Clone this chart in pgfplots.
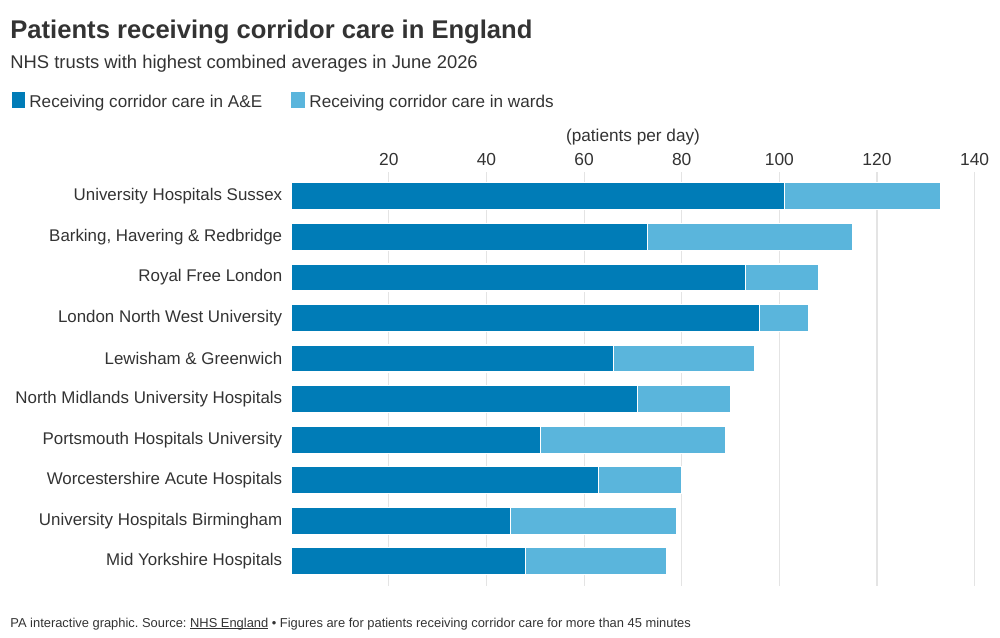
\documentclass[border=0pt]{standalone}
\usepackage{pgfplots}
\pgfplotsset{compat=1.18}
\usepackage{fontspec}
\setmainfont{Liberation Sans}
\definecolor{ae}{HTML}{007CB7}
\definecolor{wd}{HTML}{5AB5DC}
\definecolor{txt}{HTML}{333333}
\definecolor{gridc}{HTML}{E4E4E4}
\newcommand\ulin[1]{{\setbox0\hbox{#1}\rlap{\rule[-0.9pt]{\wd0}{0.35pt}}\box0}}
\frenchspacing
\begin{document}
\begin{tikzpicture}
\useasboundingbox (0,0) rectangle (500pt,-318.5pt);
\begin{axis}[
  at={(145.6pt,-86pt)}, anchor=north west,
  scale only axis, width=346.6pt, height=206.85pt,
  xbar stacked, bar width=13.5pt,
  xmin=0, xmax=142, ymin=-0.6, ymax=9.6, y dir=reverse,
  ytick={0,...,9},
  yticklabels={University Hospitals Sussex,{Barking, Havering \& Redbridge},Royal Free London,London North West University,Lewisham \& Greenwich,North Midlands University Hospitals,Portsmouth Hospitals University,Worcestershire Acute Hospitals,University Hospitals Birmingham,Mid Yorkshire Hospitals},
  xtick={20,40,...,140},
  xticklabel pos=upper,
  axis line style={draw=none},
  major tick length=0pt,
  xmajorgrids, grid style={gridc, line width=0.6pt},
  /pgf/number format/assume math mode=true,
  xticklabel style={font=\fontsize{8.7pt}{10pt}\selectfont, text=txt, inner sep=0pt, anchor=base, yshift=3.5pt},
  yticklabel style={font=\fontsize{8.45pt}{10pt}\selectfont, text=txt, inner sep=0pt, anchor=east, xshift=-4.3pt},
  clip=false,
]
\addplot[fill=ae, draw=white, line width=0.6pt] coordinates {
(101,0) (73,1) (93,2) (96,3) (66,4) (71,5) (51,6) (63,7) (45,8) (48,9)};
\addplot[fill=wd, draw=white, line width=0.6pt] coordinates {
(32,0) (42,1) (15,2) (10,3) (29,4) (19,5) (38,6) (17,7) (34,8) (29,9)};
\end{axis}
\node[anchor=base west, inner sep=0pt, text=txt, font=\fontsize{12.8pt}{14pt}\selectfont\bfseries] at (5pt,-19pt) {Patients receiving corridor care in England};
\node[anchor=base west, inner sep=0pt, text=txt, font=\fontsize{9.2pt}{11pt}\selectfont] at (5pt,-34pt) {NHS trusts with highest combined averages in June 2026};
\fill[ae] (6pt,-46pt) rectangle (12.5pt,-54pt);
\node[anchor=base west, inner sep=0pt, text=txt, font=\fontsize{8.55pt}{10pt}\selectfont] at (14.5pt,-53.5pt) {Receiving corridor care in A\&E};
\fill[wd] (145.5pt,-46pt) rectangle (152.5pt,-54pt);
\node[anchor=base west, inner sep=0pt, text=txt, font=\fontsize{8.55pt}{10pt}\selectfont] at (154.5pt,-53.5pt) {Receiving corridor care in wards};
\node[anchor=base, inner sep=0pt, text=txt, font=\fontsize{8.6pt}{10pt}\selectfont] at (316.5pt,-70.5pt) {(patients per day)};
\node[anchor=base west, inner sep=0pt, text=txt, font=\fontsize{6.45pt}{8pt}\selectfont] at (5pt,-313.5pt) {PA interactive graphic. Source: \ulin{NHS England} • Figures are for patients receiving corridor care for more than 45 minutes};
\end{tikzpicture}
\end{document}
